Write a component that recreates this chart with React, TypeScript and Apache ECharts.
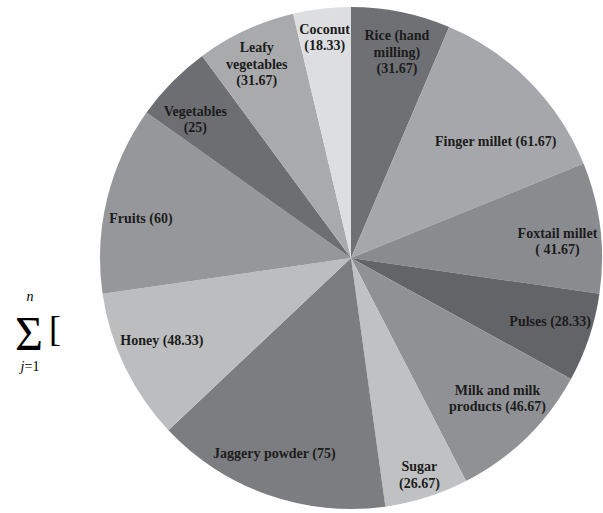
import React, { useEffect, useRef } from "react";
import * as echarts from "echarts";

// Category names (line breaks as they appear in the labels)
const categories: string[] = [
  "Rice (hand\nmilling)\n",
  "Finger millet",
  "Foxtail millet\n",
  "Pulses",
  "Milk and milk\nproducts",
  "Sugar\n",
  "Jaggery powder",
  "Honey",
  "Fruits",
  "Vegetables\n",
  "Leafy\nvegetables\n",
  "Coconut\n",
];

const values: number[] = [31.67, 61.67, 41.67, 28.33, 46.67, 26.67, 75, 48.33, 60, 25, 31.67, 18.33];

// Value text as printed in each label
const valueTexts: string[] = ["(31.67)", "(61.67)", "( 41.67)", "(28.33)", "(46.67)", "(26.67)", "(75)", "(48.33)", "(60)", "(25)", "(31.67)", "(18.33)"];

const colors: string[] = [
  "#6f7074",
  "#a6a7aa",
  "#8a8b8f",
  "#636467",
  "#909194",
  "#c0c1c3",
  "#7c7d81",
  "#bcbdbf",
  "#96979a",
  "#6d6e71",
  "#a9aaac",
  "#dddee0",
];

// Small label nudges (px) to mimic the reference's label placement
const labelNudges: [number, number][] = [
  [4, 0],
  [-5, 31],
  [-2, 9],
  [0, -3],
  [0, -10],
  [5, 17],
  [-7, -3],
  [0, -9],
  [-6, 10],
  [-6, 9],
  [-6, -3],
  [-2, -12],
];

export default function App() {
  const ref = useRef<HTMLDivElement>(null);

  useEffect(() => {
    if (!ref.current) return;
    const chart = echarts.init(ref.current, null, { renderer: "svg" });

    const sliceData = categories.map((name, i) => ({
      name: name.replace(/\n/g, " ").trim(),
      value: values[i],
      itemStyle: { color: colors[i] },
    }));

    const labelData = categories.map((name, i) => ({
      name: name.replace(/\n/g, " ").trim(),
      value: values[i],
      label: {
        formatter: () => {
          const base = name.endsWith("\n") ? name : name + " ";
          return base + valueTexts[i];
        },
      },
    }));

    const center = [351, 258];

    chart.setOption({
      animation: false,
      backgroundColor: "#ffffff",
      series: [
        {
          type: "pie",
          center,
          radius: [0, 251],
          startAngle: 90,
          clockwise: true,
          silent: true,
          label: { show: false },
          labelLine: { show: false },
          itemStyle: { borderWidth: 0 },
          data: sliceData,
        },
        {
          type: "pie",
          center,
          radius: [184, 230],
          startAngle: 90,
          clockwise: true,
          silent: true,
          avoidLabelOverlap: false,
          itemStyle: { color: "rgba(0,0,0,0)", borderWidth: 0 },
          labelLine: { show: false },
          label: {
            show: true,
            position: "inside",
            fontFamily: "Liberation Serif",
            fontWeight: "bold",
            fontSize: 14,
            lineHeight: 16.5,
            color: "#1c1c1c",
            align: "center",
          },
          labelLayout: (params: any) => {
            const n = labelNudges[params.dataIndex] || [0, 0];
            return { dx: n[0], dy: n[1] };
          },
          data: labelData,
        },
      ],
      graphic: [
        {
          type: "text",
          x: 30,
          y: 296,
          style: {
            text: "n",
            fontFamily: "Liberation Serif",
            fontStyle: "italic",
            fontSize: 14,
            lineHeight: 14,
            fill: "#000",
            textAlign: "center",
            textVerticalAlign: "middle",
          },
        },
        {
          type: "text",
          x: 29,
          y: 333,
          style: {
            text: "Σ",
            fontFamily: "Liberation Serif",
            fontSize: 48,
            lineHeight: 48,
            fill: "#000",
            textAlign: "center",
            textVerticalAlign: "middle",
          },
        },
        {
          type: "text",
          x: 49,
          y: 329,
          style: {
            text: "[",
            fontFamily: "Liberation Serif",
            fontSize: 36,
            lineHeight: 36,
            fill: "#000",
            textAlign: "left",
            textVerticalAlign: "middle",
          },
        },
        {
          type: "text",
          x: 30,
          y: 366,
          style: {
            text: "{i|j}=1",
            fontFamily: "Liberation Serif",
            fontSize: 14,
            lineHeight: 14,
            fill: "#000",
            textAlign: "center",
            textVerticalAlign: "middle",
            rich: {
              i: { fontFamily: "Liberation Serif", fontStyle: "italic", fontSize: 14, lineHeight: 14, fill: "#000" },
            },
          },
        },
      ],
    });

    return () => {
      chart.dispose();
    };
  }, []);

  return (
    <div
      ref={ref}
      style={{ position: "absolute", left: 0, top: 0, width: 603, height: 513 }}
    />
  );
}
